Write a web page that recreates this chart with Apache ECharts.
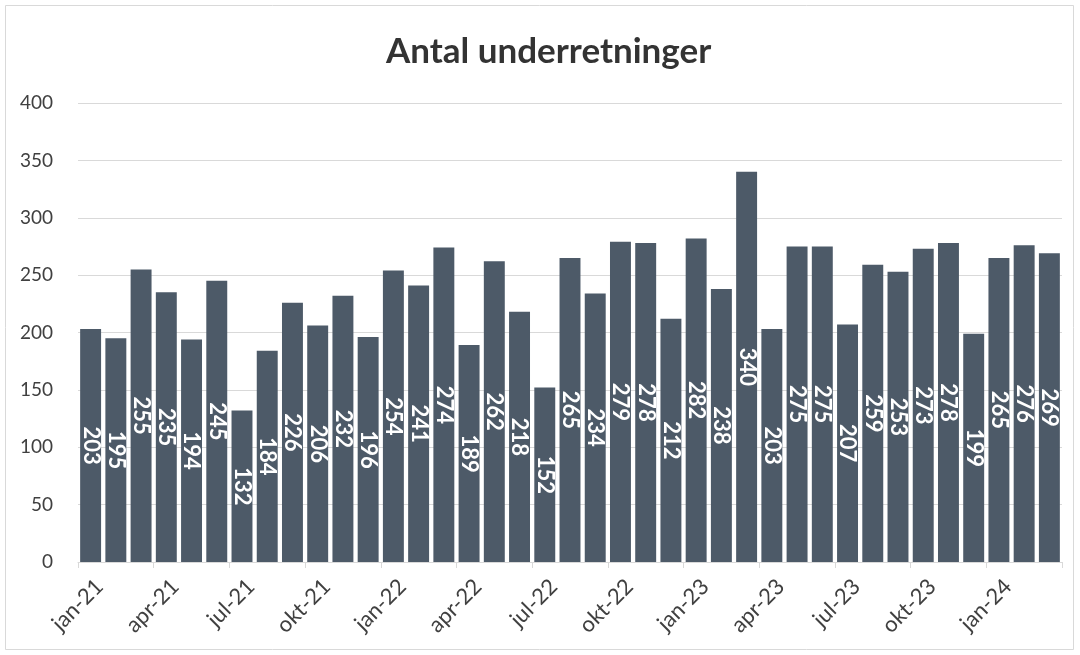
<!DOCTYPE html>
<html>
<head>
<meta charset="utf-8">
<script src="https://cdn.jsdelivr.net/npm/echarts@6/dist/echarts.min.js"></script>
<style>
html,body{margin:0;padding:0;background:#fff;}
#c{width:1080px;height:655px;}
</style>
</head>
<body>
<div id="c"></div>
<script>
const titleText = "Antal underretninger";
const categories = [
  "jan-21","feb-21","mar-21","apr-21","maj-21","jun-21","jul-21","aug-21","sep-21","okt-21","nov-21","dec-21",
  "jan-22","feb-22","mar-22","apr-22","maj-22","jun-22","jul-22","aug-22","sep-22","okt-22","nov-22","dec-22",
  "jan-23","feb-23","mar-23","apr-23","maj-23","jun-23","jul-23","aug-23","sep-23","okt-23","nov-23","dec-23",
  "jan-24","feb-24","mar-24"
];
const values = [
  203,195,255,235,194,245,132,184,226,206,232,196,
  254,241,274,189,262,218,152,265,234,279,278,212,
  282,238,340,203,275,275,207,259,253,273,278,199,
  265,276,269
];
const yTicks = [0,50,100,150,200,250,300,350,400];

const chart = echarts.init(document.getElementById('c'), null, {renderer:'canvas'});
const FONT = 'Lato, "Open Sans", sans-serif';
chart.setOption({
  backgroundColor:'#fff',
  animation:false,
  graphic:[{
    type:'rect', shape:{x:5.5,y:5.5,width:1068,height:644},
    style:{fill:'none',stroke:'#d9d9d9',lineWidth:1}, silent:true, z:-1
  }],
  title:{
    text:titleText, left:381, top:29,
    textStyle:{fontFamily:FONT,fontSize:35,fontWeight:'bold',color:'#333333'}
  },
  grid:[
    {left:78,right:18,top:103,bottom:93,containLabel:false},
    {left:87,right:9,top:103,bottom:93,containLabel:false}
  ],
  xAxis:[{
    type:'category', data:categories, boundaryGap:true, gridIndex:0,
    axisLine:{show:true,lineStyle:{color:'#d9d9d9',width:1}},
    axisTick:{show:true,interval:2,length:6,lineStyle:{color:'#d9d9d9'}},
    axisLabel:{show:false},
    splitLine:{show:false}
  },{
    type:'category', data:categories, boundaryGap:true, gridIndex:1,
    axisLine:{show:false}, axisTick:{show:false},
    axisLabel:{interval:2,rotate:45,fontFamily:FONT,fontSize:22,color:'#404040',margin:21},
    splitLine:{show:false}
  }],
  yAxis:[{
    type:'value', min:yTicks[0], max:yTicks[yTicks.length-1], interval:50, gridIndex:0,
    axisLine:{show:false}, axisTick:{show:false},
    axisLabel:{fontFamily:FONT,fontSize:19,color:'#404040',margin:25},
    splitLine:{show:true,lineStyle:{color:'#d9d9d9',width:1}}
  },{
    type:'value', min:yTicks[0], max:yTicks[yTicks.length-1], interval:50, gridIndex:1, show:false
  }],
  series:[{
    type:'bar', data:values, barCategoryGap:'17%', xAxisIndex:0, yAxisIndex:0,
    itemStyle:{color:'#4d5a68'},
    label:{
      show:true, position:'inside', rotate:-90,
      fontFamily:FONT, fontSize:22, fontWeight:'bold', color:'#ffffff'
    }
  }]
});
</script>
</body>
</html>
